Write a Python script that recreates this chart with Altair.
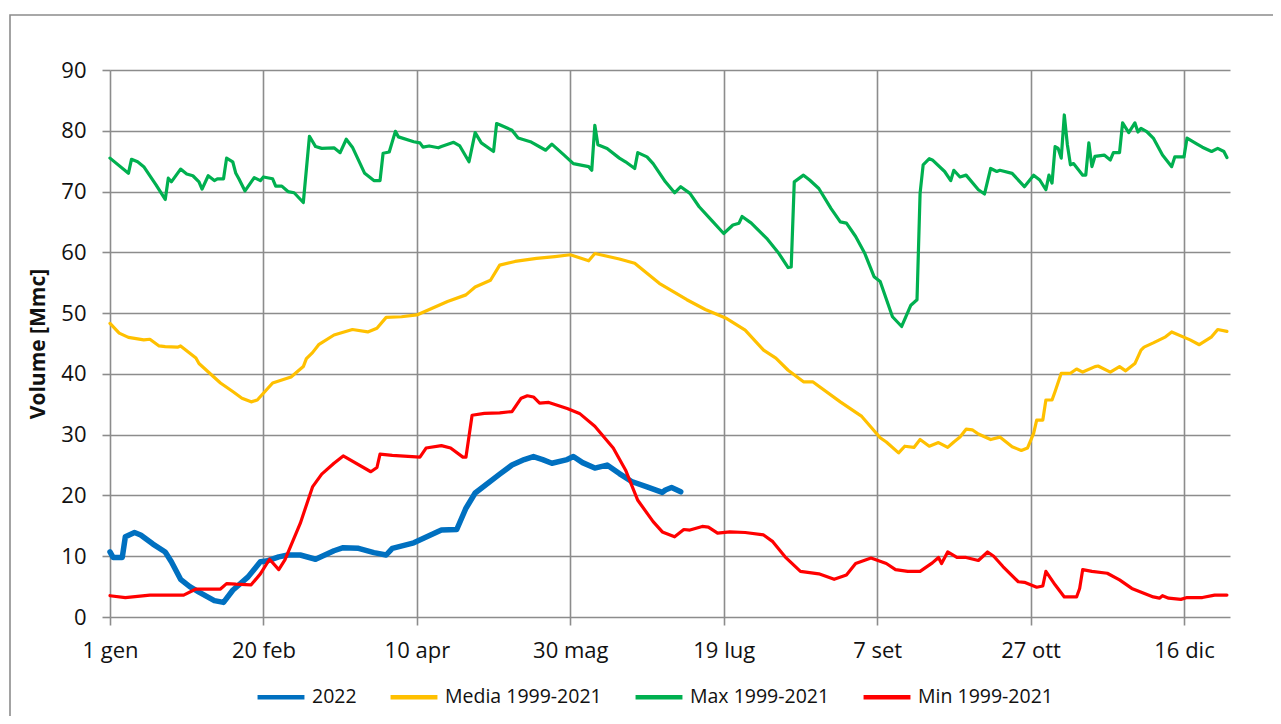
import altair as alt
import pandas as pd

# ---- axis ticks ----
tick_days = [0, 50, 100, 150, 200, 250, 300, 350]
tick_labels = ["1 gen", "20 feb", "10 apr", "30 mag", "19 lug", "7 set", "27 ott", "16 dic"]
y_ticks = [0, 10, 20, 30, 40, 50, 60, 70, 80, 90]

series_names = ["2022", "Media 1999-2021", "Max 1999-2021", "Min 1999-2021"]
series_colors = ["#0070C0", "#FFC000", "#00B050", "#FF0000"]
series_widths = [5.5, 3.2, 3.2, 3.2]

# ---- 2022 ----
y2022_days = [0, 1, 4, 5, 8, 10, 14, 18, 20, 23, 26, 29, 34, 37, 40, 45, 49, 51, 55, 58, 62, 67, 73, 76,
              81, 86, 90, 92, 99, 102, 108, 113, 116, 119, 127, 131, 135, 138, 141, 144, 149, 151, 154,
              158, 162, 166, 170, 175, 180, 181, 183, 186]
y2022_vals = [10.7, 9.8, 9.8, 13.2, 13.9, 13.5, 12.0, 10.7, 9.1, 6.2, 5.0, 4.1, 2.7, 2.4, 4.4, 6.6, 9.1, 9.2,
              9.9, 10.2, 10.2, 9.5, 10.9, 11.4, 11.3, 10.6, 10.2, 11.3, 12.2, 12.9, 14.3, 14.4, 17.9, 20.4,
              23.5, 25.0, 25.9, 26.4, 25.9, 25.3, 25.9, 26.4, 25.4, 24.5, 25.0, 23.6, 22.3, 21.4, 20.5, 20.9,
              21.3, 20.6]

# ---- Media 1999-2021 ----
media_days = [0, 3, 6, 11, 13, 16, 18, 22, 23, 28, 29, 36, 40, 43, 46, 48, 53, 59, 63, 64, 66, 68, 73, 79,
              84, 87, 90, 95, 100, 105, 110, 116, 119, 124, 127, 132, 139, 145, 150, 156, 158, 166, 171,
              179, 188, 194, 201, 207, 213, 217, 221, 226, 229, 238, 245, 251, 253, 257, 259, 262, 264,
              267, 270, 273, 275, 277, 279, 281, 283, 287, 290, 294, 297, 299, 301, 302, 304, 305, 307,
              308, 310, 313, 315, 317, 321, 322, 326, 329, 331, 334, 336, 337, 340, 344, 346, 352, 355,
              359, 361, 364]
media_vals = [48.3, 46.7, 46.0, 45.6, 45.7, 44.6, 44.5, 44.4, 44.6, 42.6, 41.7, 38.5, 37.1, 36.0, 35.4, 35.7,
              38.5, 39.5, 41.2, 42.5, 43.5, 44.8, 46.4, 47.3, 46.9, 47.5, 49.3, 49.4, 49.7, 50.8, 51.9, 53.0,
              54.3, 55.4, 57.9, 58.5, 59.0, 59.3, 59.6, 58.6, 59.8, 58.9, 58.2, 54.9, 52.2, 50.6, 49.1, 47.2,
              43.9, 42.6, 40.6, 38.7, 38.7, 35.4, 33.0, 29.5, 28.8, 27.0, 28.1, 27.9, 29.2, 28.1, 28.7, 27.9,
              28.8, 29.6, 30.9, 30.8, 30.1, 29.2, 29.6, 28.0, 27.4, 27.8, 30.2, 32.4, 32.4, 35.7, 35.7, 37.1,
              40.1, 40.1, 40.8, 40.3, 41.2, 41.3, 40.3, 41.2, 40.5, 41.7, 43.9, 44.4, 45.1, 46.1, 46.9, 45.6,
              44.8, 46.1, 47.3, 47.0]

# ---- Max 1999-2021 ----
max_days = [0, 6, 7, 9, 11, 15, 18, 19, 20, 23, 25, 27, 29, 30, 32, 34, 35, 37, 38, 40, 41, 42, 44, 47, 49,
            50, 53, 54, 56, 58, 60, 63, 65, 67, 69, 73, 75, 77, 79, 83, 86, 88, 89, 91, 93, 94, 99, 101,
            102, 104, 107, 108, 112, 114, 117, 119, 121, 125, 126, 127, 131, 133, 137, 142, 144, 148, 151,
            156, 157, 158, 159, 162, 166, 168, 171, 172, 175, 177, 181, 184, 186, 189, 192, 196, 200, 203,
            205, 206, 209, 214, 218, 221, 222, 223, 226, 228, 231, 235, 238, 240, 243, 246, 249, 251, 255,
            258, 261, 263, 264, 265, 267, 268, 272, 274, 275, 277, 279, 283, 285, 287, 289, 290, 294, 298,
            301, 303, 305, 306, 307, 308, 309, 310, 311, 312, 313, 314, 317, 318, 319, 320, 321, 324, 326,
            327, 329, 330, 332, 334, 335, 336, 338, 340, 343, 346, 347, 350, 351, 354, 356, 359, 361, 363,
            364]
max_vals = [75.5, 73.0, 75.3, 74.9, 74.1, 71.1, 68.7, 72.2, 71.6, 73.7, 72.9, 72.6, 71.6, 70.4, 72.6, 71.8,
            72.1, 72.1, 75.5, 74.9, 73.0, 72.1, 70.1, 72.3, 71.8, 72.4, 72.1, 70.9, 70.9, 70.0, 69.8, 68.2,
            79.1, 77.4, 77.1, 77.2, 76.4, 78.6, 77.3, 73.0, 71.8, 71.8, 76.3, 76.5, 79.9, 79.0, 78.2, 78.0,
            77.3, 77.5, 77.2, 77.4, 78.1, 77.5, 74.9, 79.7, 78.0, 76.6, 81.2, 81.0, 80.1, 78.8, 78.2, 76.8,
            77.8, 76.0, 74.6, 74.1, 73.5, 80.9, 77.7, 77.1, 75.5, 74.9, 73.8, 76.4, 75.7, 74.6, 71.6, 69.8,
            70.8, 69.7, 67.5, 65.3, 63.1, 64.5, 64.8, 65.9, 64.8, 62.3, 59.8, 57.5, 57.6, 71.6, 72.7, 71.9,
            70.5, 67.2, 65.0, 64.8, 62.6, 59.8, 56.0, 55.2, 49.4, 47.8, 51.3, 52.2, 69.7, 74.4, 75.4, 75.2,
            73.3, 71.8, 73.5, 72.4, 72.7, 70.3, 69.6, 73.8, 73.3, 73.5, 73.0, 70.8, 72.7, 71.9, 70.3, 72.7,
            71.4, 77.4, 77.1, 75.5, 82.6, 77.7, 74.4, 74.6, 72.7, 72.7, 78.0, 74.1, 75.8, 76.0, 75.2, 76.4,
            76.4, 81.3, 79.7, 81.3, 79.8, 80.4, 79.8, 78.8, 76.0, 74.1, 75.7, 75.7, 78.8, 77.9, 77.3, 76.6,
            77.1, 76.6, 75.6]

# ---- Min 1999-2021 ----
min_days = [0, 5, 13, 24, 28, 36, 38, 41, 46, 49, 52, 55, 57, 62, 66, 69, 73, 76, 85, 87, 88, 92, 101, 103,
            108, 111, 115, 116, 118, 122, 127, 131, 134, 136, 138, 140, 143, 149, 153, 158, 164, 168, 172,
            177, 180, 184, 187, 189, 193, 195, 198, 202, 207, 213, 216, 220, 225, 231, 236, 240, 243, 248,
            253, 256, 260, 264, 268, 270, 271, 273, 276, 279, 283, 286, 288, 291, 296, 298, 302, 304, 305,
            308, 311, 315, 316, 317, 320, 325, 329, 333, 340, 342, 343, 345, 349, 351, 356, 360, 364]
min_vals = [3.5, 3.2, 3.6, 3.6, 4.6, 4.6, 5.5, 5.4, 5.3, 7.1, 9.5, 7.8, 9.4, 15.4, 21.4, 23.5, 25.3, 26.5,
            23.9, 24.6, 26.8, 26.6, 26.3, 27.8, 28.2, 27.8, 26.3, 26.3, 33.2, 33.5, 33.6, 33.8, 36.0, 36.4,
            36.2, 35.2, 35.3, 34.3, 33.5, 31.4, 27.8, 24.2, 19.2, 15.7, 14.0, 13.2, 14.4, 14.3, 14.9, 14.8,
            13.8, 14.0, 13.9, 13.5, 12.4, 9.9, 7.5, 7.1, 6.2, 6.9, 8.8, 9.7, 8.8, 7.8, 7.5, 7.5, 8.9, 9.8,
            8.8, 10.7, 9.8, 9.8, 9.3, 10.7, 10.0, 8.3, 5.8, 5.7, 4.9, 5.1, 7.5, 5.3, 3.3, 3.3, 4.7, 7.8,
            7.5, 7.2, 6.1, 4.7, 3.3, 3.1, 3.5, 3.1, 2.9, 3.2, 3.2, 3.6, 3.6]

series_data = [
    (series_names[0], y2022_days, y2022_vals),
    (series_names[1], media_days, media_vals),
    (series_names[2], max_days, max_vals),
    (series_names[3], min_days, min_vals),
]
rows = []
for name, days, vals in series_data:
    for d, v in zip(days, vals):
        rows.append({"serie": name, "giorno": d, "volume": v})
df = pd.DataFrame(rows)

label_expr = ""
for d, lab in zip(tick_days, tick_labels):
    label_expr += f"datum.value == {d} ? '{lab}' : "
label_expr += "''"

FONT = "Open Sans"
GRID = "#8c8c8c"

x_enc = alt.X(
    "giorno:Q",
    scale=alt.Scale(domain=[0, 365], nice=False, zero=False),
    axis=alt.Axis(values=tick_days, labelExpr=label_expr, title=None, grid=True,
                  gridColor=GRID, gridWidth=1.6, domain=False, ticks=True, tickColor=GRID,
                  tickWidth=1.6, tickSize=8, labelFont=FONT, labelFontSize=22, labelColor="#111111",
                  labelPadding=15, labelFlush=False),
)
y_enc = alt.Y(
    "volume:Q",
    scale=alt.Scale(domain=[0, 90], nice=False),
    axis=alt.Axis(values=y_ticks, title="Volume [Mmc]", grid=True, gridColor=GRID, gridWidth=1.6,
                  domain=False, ticks=True, tickColor=GRID, tickWidth=1.6, tickSize=8,
                  labelFont=FONT, labelFontSize=22, labelColor="#111111", labelPadding=16,
                  titleFont=FONT, titleFontSize=21, titleFontWeight="bold", titleColor="#111111",
                  titlePadding=12),
)
color_enc = alt.Color(
    "serie:N",
    scale=alt.Scale(domain=series_names, range=series_colors),
    legend=alt.Legend(title=None, orient="none", legendX=145, legendY=601, direction="horizontal",
                      symbolType="stroke", symbolSize=2200, symbolStrokeWidth=4.5,
                      labelFont=FONT, labelFontSize=19.5, labelColor="#111111", labelOffset=5,
                      columnPadding=24, padding=0, labelLimit=400),
)

layers = []
for n, w in zip(series_names, series_widths):
    layers.append(
        alt.Chart(df).transform_filter(alt.datum.serie == n)
        .mark_line(strokeJoin="round", strokeCap="round", strokeWidth=w)
        .encode(x=x_enc, y=y_enc, color=color_enc)
    )

frame = alt.Chart(pd.DataFrame({"k": [0]})).mark_rect(
    filled=False, stroke="#8c8c8c", strokeWidth=1.6
).encode(
    x=alt.value(-100), x2=alt.value(1200), y=alt.value(-55), y2=alt.value(700)
)

chart = alt.layer(frame, *layers).properties(
    width=1120, height=547,
    padding={"left": 102, "top": 62, "right": 43, "bottom": 99},
    autosize=alt.AutoSizeParams(type="none"),
).configure_view(stroke=None)

chart.save("out.html", embed_options={"renderer": "svg", "actions": False})
